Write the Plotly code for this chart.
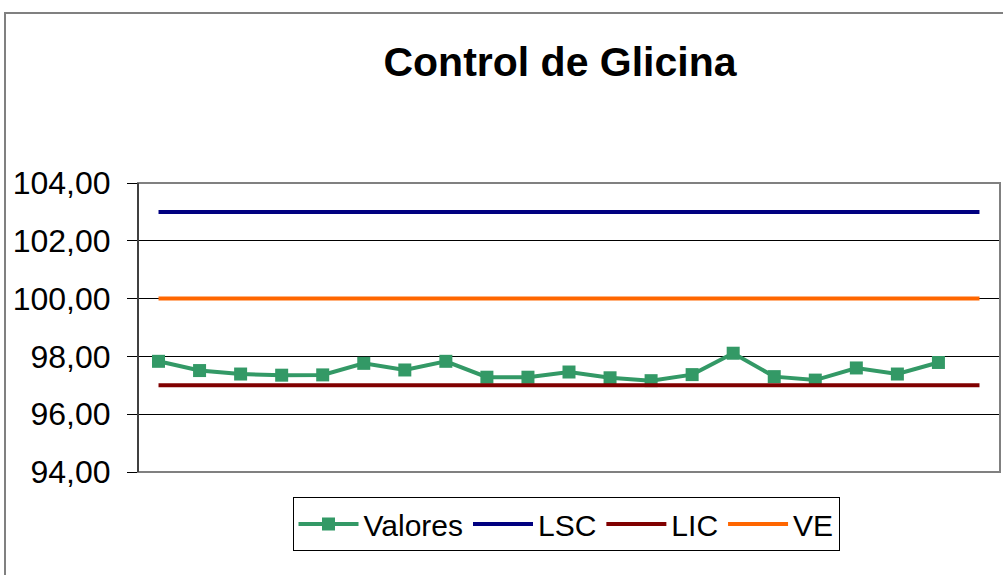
import plotly.graph_objects as go

categories = list(range(1, 22))
valores = [97.83, 97.51, 97.39, 97.35, 97.36, 97.76, 97.53, 97.83, 97.28, 97.28,
           97.46, 97.26, 97.16, 97.37, 98.11, 97.30, 97.18, 97.60, 97.39, 97.79]
lsc = [103.0] * 21
lic = [97.0] * 21
ve = [100.0] * 21
y_ticks = [94, 96, 98, 100, 102, 104]
y_tick_labels = ["94,00", "96,00", "98,00", "100,00", "102,00", "104,00"]

FONT = "Liberation Sans, Arial, sans-serif"

fig = go.Figure()
fig.add_trace(go.Scatter(x=categories[:len(valores)], y=valores, name="Valores",
                         mode="lines+markers",
                         line=dict(color="#339966", width=4),
                         marker=dict(symbol="square", size=13, color="#339966")))
fig.add_trace(go.Scatter(x=categories, y=lsc, name="LSC", mode="lines",
                         line=dict(color="#000080", width=4)))
fig.add_trace(go.Scatter(x=categories, y=lic, name="LIC", mode="lines",
                         line=dict(color="#800000", width=4)))
fig.add_trace(go.Scatter(x=categories, y=ve, name="VE", mode="lines",
                         line=dict(color="#FF6600", width=4)))

L, R, T, B = 138, 1000, 183, 472
W, H = 1003, 575
pw, ph = R - L, B - T

fig.update_layout(
    width=W, height=H,
    margin=dict(l=L, r=W - R, t=T, b=H - B),
    paper_bgcolor="white", plot_bgcolor="white",
    font=dict(family=FONT, color="black"),
    title=dict(text="<b>Control de Glicina</b>", font=dict(size=41, family=FONT, color="black"),
               x=560 / W, xanchor="center", xref="container",
               y=1 - 62 / H, yanchor="middle", yref="container"),
    showlegend=True,
    legend=dict(orientation="h", x=(566 - L) / pw, xanchor="center",
                y=(B - 497) / ph, yanchor="top",
                bordercolor="black", borderwidth=1, bgcolor="white",
                font=dict(size=30, family=FONT, color="black"),
                itemwidth=60, tracegroupgap=0),
    xaxis=dict(range=[0.5, 21.5], showticklabels=False, showgrid=False, zeroline=False,
               showline=False, ticks=""),
    yaxis=dict(range=[94, 104], tickvals=y_ticks, ticktext=y_tick_labels,
               showgrid=True, gridcolor="black", gridwidth=1, zeroline=False,
               showline=True, linecolor="black", linewidth=1,
               ticks="outside", ticklen=10, tickcolor="black",
               tickfont=dict(size=32, family=FONT, color="black"),
               ticklabelstandoff=10),
    shapes=[
        dict(type="rect", xref="paper", yref="paper", x0=0, x1=1, y0=0, y1=1,
             line=dict(color="#808080", width=2), layer="above"),
        dict(type="line", xref="paper", yref="paper", x0=0, x1=0, y0=0, y1=1,
             line=dict(color="black", width=1), layer="above"),
        dict(type="rect", xref="paper", yref="paper",
             x0=(5 - L) / pw, x1=(1010 - L) / pw,
             y0=(B - 590) / ph, y1=(B - 13) / ph,
             line=dict(color="#808080", width=2), layer="below"),
    ],
)

fig.write_html("out.html", config={"displayModeBar": False},
               post_script="document.body.style.margin='0';document.body.style.overflow='hidden';")
